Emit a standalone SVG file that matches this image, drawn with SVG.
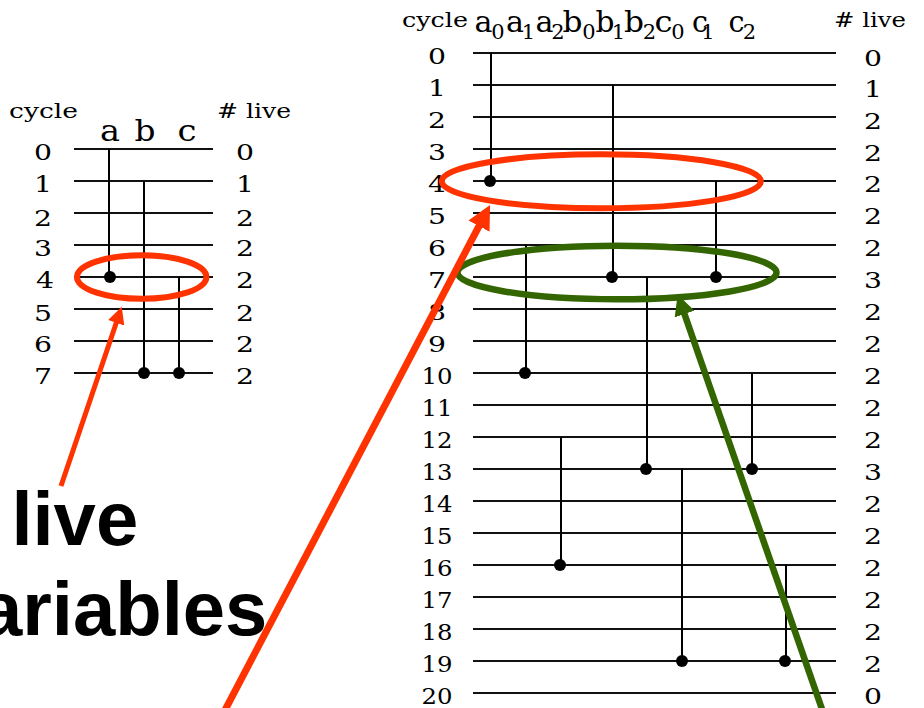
<svg xmlns="http://www.w3.org/2000/svg" width="924" height="708" viewBox="0 0 924 708">
<style>
.grid{stroke:#111;stroke-width:2;fill:none}
.vl{stroke:#000;stroke-width:2;fill:none}
.dot{fill:#000}
.serif{font-family:"DejaVu Serif","Liberation Serif",serif;fill:#000}
.num{font-size:23px;text-anchor:middle}
.hdr{font-size:21px}
.var{font-size:30px;text-anchor:middle}
.sub{font-size:21px;text-anchor:middle}
.big{font-family:"Liberation Sans",Arial,sans-serif;font-weight:bold;font-size:76px;fill:#000}
.redS{stroke:#FF3300;fill:none}
.grnS{stroke:#336600;fill:none}
</style>
<defs>
<marker id="headRed" viewBox="0 0 10 10" refX="1" refY="5" markerWidth="3.4" markerHeight="3.4" orient="auto" markerUnits="strokeWidth"><path d="M0,0 L10,5 L0,10 z" fill="#FF3300"/></marker>
<marker id="headGrn" viewBox="0 0 10 10" refX="1" refY="5" markerWidth="3.2" markerHeight="3.2" orient="auto" markerUnits="strokeWidth"><path d="M0,0 L10,5 L0,10 z" fill="#336600"/></marker>
</defs>
<rect width="924" height="708" fill="#fff"/>

<g id="left-chart">
  <g id="left-header" class="serif">
    <text class="hdr" x="9" y="118" textLength="69" lengthAdjust="spacingAndGlyphs">cycle</text>
    <text class="var" x="110" y="141" font-size="31" textLength="20" lengthAdjust="spacingAndGlyphs">a</text>
    <text class="var" x="145" y="141" font-size="31" textLength="21" lengthAdjust="spacingAndGlyphs">b</text>
    <text class="var" x="187" y="141" font-size="31" textLength="19" lengthAdjust="spacingAndGlyphs">c</text>
    <text class="hdr" x="217" y="118" textLength="74" lengthAdjust="spacingAndGlyphs"># live</text>
  </g>
  <g id="left-rows" class="grid">
    <line x1="74" y1="149" x2="213" y2="149"/>
    <line x1="74" y1="181" x2="213" y2="181"/>
    <line x1="74" y1="213" x2="213" y2="213"/>
    <line x1="74" y1="245" x2="213" y2="245"/>
    <line x1="74" y1="277" x2="213" y2="277"/>
    <line x1="74" y1="309" x2="213" y2="309"/>
    <line x1="74" y1="341" x2="213" y2="341"/>
    <line x1="74" y1="373" x2="213" y2="373"/>
  </g>
  <g id="left-cycles" class="serif num">
    <text x="43" y="160" textLength="18" lengthAdjust="spacingAndGlyphs">0</text>
    <text x="43" y="192" textLength="18" lengthAdjust="spacingAndGlyphs">1</text>
    <text x="43" y="226" textLength="18" lengthAdjust="spacingAndGlyphs">2</text>
    <text x="43" y="256" textLength="18" lengthAdjust="spacingAndGlyphs">3</text>
    <text x="45" y="288" textLength="18" lengthAdjust="spacingAndGlyphs">4</text>
    <text x="43" y="321" textLength="18" lengthAdjust="spacingAndGlyphs">5</text>
    <text x="43" y="352" textLength="18" lengthAdjust="spacingAndGlyphs">6</text>
    <text x="43" y="384" textLength="18" lengthAdjust="spacingAndGlyphs">7</text>
  </g>
  <g id="left-live" class="serif num">
    <text x="245" y="160" textLength="18" lengthAdjust="spacingAndGlyphs">0</text>
    <text x="245" y="192" textLength="18" lengthAdjust="spacingAndGlyphs">1</text>
    <text x="245" y="226" textLength="18" lengthAdjust="spacingAndGlyphs">2</text>
    <text x="245" y="256" textLength="18" lengthAdjust="spacingAndGlyphs">2</text>
    <text x="245" y="288" textLength="18" lengthAdjust="spacingAndGlyphs">2</text>
    <text x="245" y="321" textLength="18" lengthAdjust="spacingAndGlyphs">2</text>
    <text x="245" y="352" textLength="18" lengthAdjust="spacingAndGlyphs">2</text>
    <text x="245" y="384" textLength="18" lengthAdjust="spacingAndGlyphs">2</text>
  </g>
  <g id="left-var-a"><line class="vl" x1="109" y1="149" x2="109" y2="277"/><circle class="dot" cx="110" cy="277" r="6"/></g>
  <g id="left-var-b"><line class="vl" x1="144" y1="181" x2="144" y2="373"/><circle class="dot" cx="144" cy="373" r="6"/></g>
  <g id="left-var-c"><line class="vl" x1="179" y1="277" x2="179" y2="373"/><circle class="dot" cx="179" cy="373" r="6"/></g>
</g>

<g id="right-chart">
  <g id="right-header" class="serif">
    <text class="hdr" x="402" y="27" textLength="66" lengthAdjust="spacingAndGlyphs">cycle</text>
    <text class="var" x="483.5" y="32" textLength="18" lengthAdjust="spacingAndGlyphs">a</text><text class="sub" x="498" y="39">0</text>
    <text class="var" x="515" y="32" textLength="18" lengthAdjust="spacingAndGlyphs">a</text><text class="sub" x="528.5" y="39">1</text>
    <text class="var" x="544.5" y="32" textLength="18" lengthAdjust="spacingAndGlyphs">a</text><text class="sub" x="558" y="39">2</text>
    <text class="var" x="572.5" y="32" textLength="20" lengthAdjust="spacingAndGlyphs">b</text><text class="sub" x="589" y="39">0</text>
    <text class="var" x="605" y="32" textLength="19" lengthAdjust="spacingAndGlyphs">b</text><text class="sub" x="618.5" y="39">1</text>
    <text class="var" x="634" y="32" textLength="20" lengthAdjust="spacingAndGlyphs">b</text><text class="sub" x="649.5" y="39">2</text>
    <text class="var" x="663.5" y="32" textLength="18" lengthAdjust="spacingAndGlyphs">c</text><text class="sub" x="678" y="39">0</text>
    <text class="var" x="700" y="32" textLength="16" lengthAdjust="spacingAndGlyphs">c</text><text class="sub" x="708" y="39">1</text>
    <text class="var" x="736.5" y="32" textLength="16" lengthAdjust="spacingAndGlyphs">c</text><text class="sub" x="749.5" y="39">2</text>
    <text class="hdr" x="834" y="27" textLength="72" lengthAdjust="spacingAndGlyphs"># live</text>
  </g>
  <g id="right-rows" class="grid">
    <line x1="473" y1="53" x2="836" y2="53"/>
    <line x1="473" y1="85" x2="836" y2="85"/>
    <line x1="473" y1="117" x2="836" y2="117"/>
    <line x1="473" y1="149" x2="836" y2="149"/>
    <line x1="473" y1="181" x2="836" y2="181"/>
    <line x1="473" y1="213" x2="836" y2="213"/>
    <line x1="473" y1="245" x2="836" y2="245"/>
    <line x1="473" y1="277" x2="836" y2="277"/>
    <line x1="473" y1="309" x2="836" y2="309"/>
    <line x1="473" y1="341" x2="836" y2="341"/>
    <line x1="473" y1="373" x2="836" y2="373"/>
    <line x1="473" y1="405" x2="836" y2="405"/>
    <line x1="473" y1="437" x2="836" y2="437"/>
    <line x1="473" y1="469" x2="836" y2="469"/>
    <line x1="473" y1="501" x2="836" y2="501"/>
    <line x1="473" y1="533" x2="836" y2="533"/>
    <line x1="473" y1="565" x2="836" y2="565"/>
    <line x1="473" y1="597" x2="836" y2="597"/>
    <line x1="473" y1="629" x2="836" y2="629"/>
    <line x1="473" y1="661" x2="836" y2="661"/>
    <line x1="473" y1="693" x2="836" y2="693"/>
  </g>
  <g id="right-cycles" class="serif num">
    <text x="437" y="64" textLength="18" lengthAdjust="spacingAndGlyphs">0</text>
    <text x="437" y="96" textLength="18" lengthAdjust="spacingAndGlyphs">1</text>
    <text x="437" y="128" textLength="18" lengthAdjust="spacingAndGlyphs">2</text>
    <text x="437" y="160" textLength="18" lengthAdjust="spacingAndGlyphs">3</text>
    <text x="437" y="192" textLength="18" lengthAdjust="spacingAndGlyphs">4</text>
    <text x="437" y="224" textLength="18" lengthAdjust="spacingAndGlyphs">5</text>
    <text x="437" y="256" textLength="18" lengthAdjust="spacingAndGlyphs">6</text>
    <text x="437" y="288" textLength="18" lengthAdjust="spacingAndGlyphs">7</text>
    <text x="437" y="320" textLength="18" lengthAdjust="spacingAndGlyphs">8</text>
    <text x="437" y="352" textLength="18" lengthAdjust="spacingAndGlyphs">9</text>
    <text x="437" y="384" textLength="31" lengthAdjust="spacingAndGlyphs">10</text>
    <text x="437" y="416" textLength="31" lengthAdjust="spacingAndGlyphs">11</text>
    <text x="437" y="448" textLength="31" lengthAdjust="spacingAndGlyphs">12</text>
    <text x="437" y="480" textLength="31" lengthAdjust="spacingAndGlyphs">13</text>
    <text x="437" y="512" textLength="31" lengthAdjust="spacingAndGlyphs">14</text>
    <text x="437" y="544" textLength="31" lengthAdjust="spacingAndGlyphs">15</text>
    <text x="437" y="576" textLength="31" lengthAdjust="spacingAndGlyphs">16</text>
    <text x="437" y="608" textLength="31" lengthAdjust="spacingAndGlyphs">17</text>
    <text x="437" y="640" textLength="31" lengthAdjust="spacingAndGlyphs">18</text>
    <text x="437" y="672" textLength="31" lengthAdjust="spacingAndGlyphs">19</text>
    <text x="437" y="704" textLength="31" lengthAdjust="spacingAndGlyphs">20</text>
  </g>
  <g id="right-live" class="serif num">
    <text x="873" y="66" textLength="18" lengthAdjust="spacingAndGlyphs">0</text>
    <text x="873" y="97" textLength="18" lengthAdjust="spacingAndGlyphs">1</text>
    <text x="873" y="129" textLength="18" lengthAdjust="spacingAndGlyphs">2</text>
    <text x="873" y="161" textLength="18" lengthAdjust="spacingAndGlyphs">2</text>
    <text x="873" y="192" textLength="18" lengthAdjust="spacingAndGlyphs">2</text>
    <text x="873" y="224" textLength="18" lengthAdjust="spacingAndGlyphs">2</text>
    <text x="873" y="256" textLength="18" lengthAdjust="spacingAndGlyphs">2</text>
    <text x="873" y="288" textLength="18" lengthAdjust="spacingAndGlyphs">3</text>
    <text x="873" y="320" textLength="18" lengthAdjust="spacingAndGlyphs">2</text>
    <text x="873" y="352" textLength="18" lengthAdjust="spacingAndGlyphs">2</text>
    <text x="873" y="384" textLength="18" lengthAdjust="spacingAndGlyphs">2</text>
    <text x="873" y="416" textLength="18" lengthAdjust="spacingAndGlyphs">2</text>
    <text x="873" y="448" textLength="18" lengthAdjust="spacingAndGlyphs">2</text>
    <text x="873" y="480" textLength="18" lengthAdjust="spacingAndGlyphs">3</text>
    <text x="873" y="512" textLength="18" lengthAdjust="spacingAndGlyphs">2</text>
    <text x="873" y="544" textLength="18" lengthAdjust="spacingAndGlyphs">2</text>
    <text x="873" y="576" textLength="18" lengthAdjust="spacingAndGlyphs">2</text>
    <text x="873" y="608" textLength="18" lengthAdjust="spacingAndGlyphs">2</text>
    <text x="873" y="640" textLength="18" lengthAdjust="spacingAndGlyphs">2</text>
    <text x="873" y="672" textLength="18" lengthAdjust="spacingAndGlyphs">2</text>
    <text x="873" y="704" textLength="18" lengthAdjust="spacingAndGlyphs">0</text>
  </g>
  <g id="var-a0"><line class="vl" x1="491" y1="53" x2="491" y2="181"/><circle class="dot" cx="490" cy="181" r="6"/></g>
  <g id="var-b0"><line class="vl" x1="613" y1="85" x2="613" y2="277"/><circle class="dot" cx="612" cy="277" r="6"/></g>
  <g id="var-c0"><line class="vl" x1="716" y1="181" x2="716" y2="277"/><circle class="dot" cx="716" cy="277" r="6"/></g>
  <g id="var-a1"><line class="vl" x1="526" y1="245" x2="526" y2="373"/><circle class="dot" cx="525" cy="373" r="6"/></g>
  <g id="var-b1"><line class="vl" x1="647" y1="277" x2="647" y2="469"/><circle class="dot" cx="646" cy="469" r="6"/></g>
  <g id="var-c1"><line class="vl" x1="752" y1="373" x2="752" y2="469"/><circle class="dot" cx="752" cy="469" r="6"/></g>
  <g id="var-a2"><line class="vl" x1="561" y1="437" x2="561" y2="565"/><circle class="dot" cx="560" cy="565" r="6"/></g>
  <g id="var-b2"><line class="vl" x1="682" y1="469" x2="682" y2="661"/><circle class="dot" cx="682" cy="661" r="6"/></g>
  <g id="var-c2"><line class="vl" x1="786" y1="565" x2="786" y2="661"/><circle class="dot" cx="785" cy="661" r="6"/></g>
</g>

<g id="highlights">
  <ellipse id="ring-left" class="redS" stroke-width="6" cx="141.7" cy="277" rx="64.7" ry="21.8"/>
  <ellipse id="ring-red" class="redS" stroke-width="6" cx="601.3" cy="181.3" rx="159.5" ry="27"/>
  <ellipse id="ring-green" class="grnS" stroke-width="6.5" cx="617" cy="272.5" rx="159.5" ry="26.8"/>
</g>

<g id="label-live-vars">
  <text class="big" x="11.4" y="545">live</text>
  <text class="big" x="-20" y="635">ariables</text>
</g>

<g id="connectors">
  <line class="redS" stroke-width="5" x1="61" y1="486" x2="116.8" y2="321.2" marker-end="url(#headRed)"/>
  <line class="redS" stroke-width="7" x1="224" y1="712" x2="480.1" y2="224" marker-end="url(#headRed)"/>
  <line class="grnS" stroke-width="6.5" x1="823" y1="712" x2="683.8" y2="312.1" marker-end="url(#headGrn)"/>
</g>
</svg>
